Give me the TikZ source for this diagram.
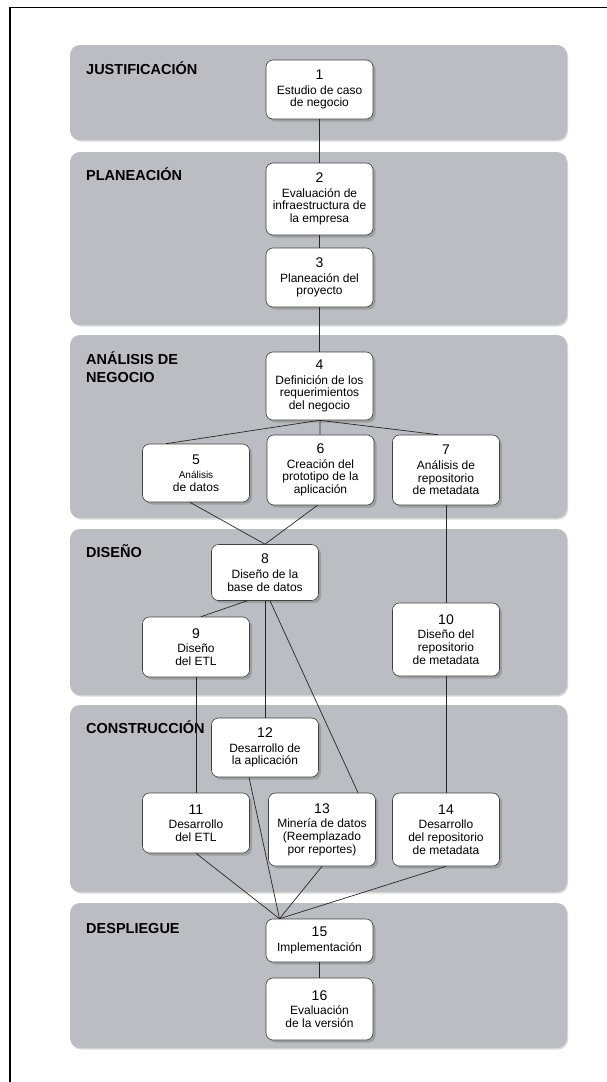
\documentclass[tikz,border=0pt]{standalone}
\usepackage{fontspec}
\setmainfont{Liberation Sans}
\usetikzlibrary{shapes,arrows}
\usetikzlibrary{shadows}
\tikzset{auto,>=latex', minimum size=0pt, font=\fontsize{12}{12.7}\selectfont}
\definecolor{bandgray}{RGB}{188,189,194}
\tikzstyle{band} = [fill=bandgray, rectangle, rounded corners=10pt, minimum width=497pt, inner sep=0pt, drop shadow={shadow xshift=1pt, shadow yshift=-1.5pt, opacity=0.3}]
\tikzstyle{block} = [draw=black!75, line width=0.6pt, fill=white, rectangle, rounded corners=7pt, minimum width=107pt, inner sep=2pt, text centered, align=center, drop shadow={shadow xshift=2.5pt, shadow yshift=-2.5pt, opacity=0.5}]
\tikzstyle{phase} = [anchor=base west, font=\fontsize{14.5}{18}\selectfont\bfseries, align=left, inner sep=0pt]
\tikzstyle{link} = [line width=0.7pt, black!85]
\newcommand{\paso}[1]{{\fontsize{14}{14}\selectfont #1}\\[2pt]}

\begin{document}
\begin{tikzpicture}[x=1pt, y=-1pt]
		\useasboundingbox (0,0) rectangle (607,1082);
		\draw [line width=1.5pt] (10,1090) -- (10,7.5) -- (615,7.5);

		\node [band, minimum height=95pt] (band-justif) at (318.5,92.5) {};
		\node [band, minimum height=173pt] (band-plan) at (318.5,238.5) {};
		\node [band, minimum height=183pt] (band-analisis) at (318.5,426.5) {};
		\node [band, minimum height=166pt] (band-diseno) at (318.5,612) {};
		\node [band, minimum height=187pt] (band-constr) at (318.5,798.5) {};
		\node [band, minimum height=145pt] (band-despl) at (318.5,975.5) {};

		\node [phase] (justif) at (86,74) {JUSTIFICACIÓN};
		\node [phase] (planeacion) at (86,180) {PLANEACIÓN};
		\node [phase] (analisis) at (86,382) {ANÁLISIS DE\\NEGOCIO};
		\node [phase] (diseno) at (86,557) {DISEÑO};
		\node [phase] (construccion) at (86,733) {CONSTRUCCIÓN};
		\node [phase] (despliegue) at (86,933) {DESPLIEGUE};

		\node [block, minimum height=59pt] (caso) at (319.5,89.5) {\paso{1}Estudio de caso\\de negocio};
		\node [block, minimum height=72pt] (infra) at (319.5,199) {\paso{2}Evaluación de\\infraestructura de\\la empresa};
		\node [block, minimum height=59pt] (plan) at (319.5,277.5) {\paso{3}Planeación del\\proyecto};
		\node [block, minimum height=68pt] (req) at (319.5,386) {\paso{4}Definición de los\\requerimientos\\del negocio};
		\node [block, minimum height=58pt] (datos) at (196,473) {\paso{5}{\fontsize{10}{11}\selectfont Análisis}\\de datos};
		\node [block, minimum height=70pt] (proto) at (320.5,470) {\paso{6}Creación del\\prototipo de la\\aplicación};
		\node [block, minimum height=70pt] (meta) at (446,470) {\paso{7}Análisis de\\repositorio\\de metadata};
		\node [block, minimum height=56pt] (bd) at (265,572.5) {\paso{8}Diseño de la\\base de datos};
		\node [block, minimum height=60pt] (etl) at (196,647) {\paso{9}Diseño\\del ETL};
		\node [block, minimum height=73pt] (repo) at (446,639.5) {\paso{10}Diseño del\\repositorio\\de metadata};
		\node [block, minimum height=59pt] (app-dev) at (265,747.5) {\paso{12}Desarrollo de\\la aplicación};
		\node [block, minimum height=60pt] (etl-dev) at (196,823) {\paso{11}Desarrollo\\del ETL};
		\node [block, minimum height=73pt] (mineria) at (322,829.5) {\paso{13}Minería de datos\\(Reemplazado\\por reportes)};
		\node [block, minimum height=73pt] (repo-dev) at (446,829.5) {\paso{14}Desarrollo\\del repositorio\\de metadata};
		\node [block, minimum height=43pt] (impl) at (319.5,940.5) {\paso{15}Implementación};
		\node [block, minimum height=62pt] (eval) at (319.5,1009) {\paso{16}Evaluación\\de la versión};

		\coordinate (merge) at ([xshift=-40pt]impl.north);

		\draw [link] (caso) -- (infra);
		\draw [link] (infra) -- (plan);
		\draw [link] (plan) -- (req);
		\draw [link] (req.south) -- ([xshift=-30pt]datos.north);
		\draw [link] (req) -- (proto);
		\draw [link] (req.south) -- ([xshift=-8pt]meta.north);
		\draw [link] ([xshift=-6pt]datos.south) -- (bd.north);
		\draw [link] ([xshift=-3pt]proto.south) -- (bd.north);
		\draw [link] (meta) -- (repo);
		\draw [link] ([xshift=-18pt]bd.south) -- ([xshift=5pt]etl.north);
		\draw [link] (bd) -- (app-dev);
		\draw [link] ([xshift=5pt]bd.south) -- ([xshift=36pt]mineria.north);
		\draw [link] (etl) -- (etl-dev);
		\draw [link] (repo) -- (repo-dev);
		\draw [link] (etl-dev.south) -- (merge);
		\draw [link] ([xshift=-16pt]app-dev.south) -- (merge);
		\draw [link] (mineria.south) -- (merge);
		\draw [link] (repo-dev.south) -- (merge);
		\draw [link] (impl) -- (eval);
	\end{tikzpicture}
\end{document}
